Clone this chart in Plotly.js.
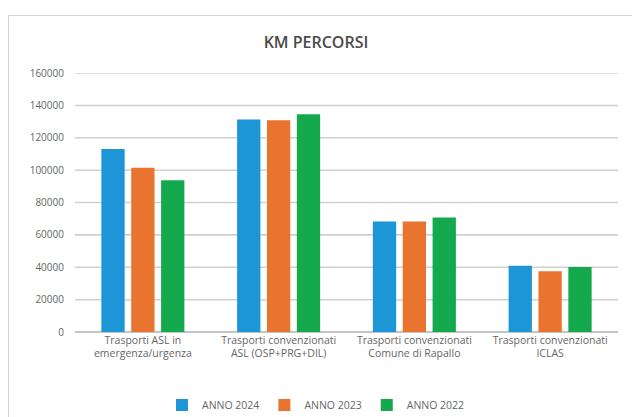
<!DOCTYPE html>
<html>
<head>
<meta charset="utf-8">
<script src="https://cdn.plot.ly/plotly-3.0.1.min.js"></script>
<style>
html,body{margin:0;padding:0;background:#fff;}
#wrap{position:relative;width:632px;height:417px;overflow:hidden;background:#fff;}
#chart{width:632px;height:417px;}
#frame{position:absolute;left:8px;top:15px;width:660px;height:440px;border:1px solid #d4d4d4;pointer-events:none;}
</style>
</head>
<body>
<div id="wrap"><div id="chart"></div><div id="frame"></div></div>
<script>
const categories = [
  "Trasporti ASL in<br>emergenza/urgenza",
  "Trasporti convenzionati<br>ASL (OSP+PRG+DIL)",
  "Trasporti convenzionati<br>Comune di Rapallo",
  "Trasporti convenzionati<br>ICLAS"
];
const seriesNames = ["ANNO 2024", "ANNO 2023", "ANNO 2022"];
const anno2024 = [113000, 131200, 68200, 41000];
const anno2023 = [101400, 130800, 68200, 37500];
const anno2022 = [93800, 134500, 70800, 40200];
const yTicks = [0, 20000, 40000, 60000, 80000, 100000, 120000, 140000, 160000];

const colors = ["#1C96D6", "#E8742F", "#14A94D"];
const values = [anno2024, anno2023, anno2022];

const data = values.map((v, i) => ({
  type: "bar",
  name: seriesNames[i],
  x: categories,
  y: v,
  marker: {color: colors[i]},
  hoverinfo: "x+y+name"
}));

const gridShapes = yTicks.map(t => ({
  type: "line",
  xref: "paper", yref: "y",
  x0: 0, x1: 1, y0: t, y1: t,
  line: {color: "#d0d0d0", width: 1.5},
  layer: "between"
}));

const font = "Open Sans, Liberation Sans, sans-serif";
const layout = {
  width: 632,
  height: 417,
  margin: {l: 75, r: 14, t: 73, b: 85},
  paper_bgcolor: "rgba(0,0,0,0)",
  plot_bgcolor: "rgba(0,0,0,0)",
  barmode: "group",
  bargap: 0.34,
  bargroupgap: 0.22,
  title: {
    text: "KM PERCORSI",
    font: {family: font, size: 16, color: "#4a4a4a", weight: 600},
    x: 0.5, xref: "container", xanchor: "center",
    y: 1 - 42/417, yref: "container", yanchor: "middle"
  },
  xaxis: {
    type: "category",
    tickfont: {family: font, size: 10.5, color: "#666666"},
    showgrid: false,
    showline: false,
    ticks: "",
    zeroline: false
  },
  yaxis: {
    range: [0, 160000],
    dtick: 20000,
    tick0: 0,
    tickformat: "d",
    tickfont: {family: font, size: 10, color: "#666666"},
    showgrid: true,
    gridcolor: "#d0d0d0",
    gridwidth: 1,
    zeroline: true,
    zerolinecolor: "#c4c4c4",
    zerolinewidth: 1.5,
    ticks: "outside",
    ticklen: 8,
    tickcolor: "rgba(0,0,0,0)"
  },
  legend: {
    orientation: "h",
    x: 0.5, xref: "container", xanchor: "center",
    y: 1 - 405/417, yref: "container", yanchor: "middle",
    font: {family: font, size: 10.5, color: "#666666"},
    itemwidth: 30,
    tracegroupgap: 0,
    traceorder: "normal"
  },
  shapes: gridShapes
};

Plotly.newPlot("chart", data, layout, {displayModeBar: false});
</script>
</body>
</html>
